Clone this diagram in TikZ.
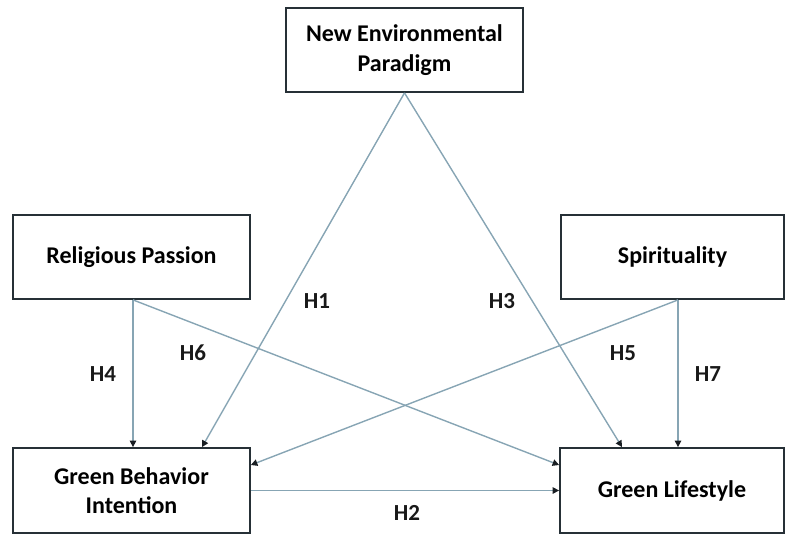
\documentclass[tikz,border=0pt]{standalone}
\usepackage{fontspec}
\setmainfont{Carlito}
\usetikzlibrary{arrows.meta}
\definecolor{boxcol}{RGB}{38,48,54}
\definecolor{linecol}{RGB}{135,165,180}
\definecolor{tipcol}{RGB}{25,30,35}
\tikzset{
  box/.style={draw=boxcol, line width=1.8pt, fill=white, rectangle, align=center,
    font=\fontsize{24}{29.5}\selectfont\bfseries, inner sep=0pt},
  conn/.style={draw=linecol, line width=1.4pt,
    -{Triangle[length=6.5pt,width=6.5pt,color=tipcol]}},
  lab/.style={font=\fontsize{23}{26}\selectfont\bfseries, text=black!90}
}
\begin{document}
\begin{tikzpicture}[x=1pt,y=-1pt]
\useasboundingbox (0,0) rectangle (786,534);
\node[box, minimum width=237pt, minimum height=84pt] (nep) at (404.5,50) {New Environmental\\Paradigm};
\node[box, minimum width=237pt, minimum height=84pt] (rp) at (131.5,257) {Religious Passion};
\node[box, minimum width=223pt, minimum height=84pt] (sp) at (672.5,257) {Spirituality};
\node[box, minimum width=237pt, minimum height=85pt] (gbi) at (131.5,490.5) {Green Behavior\\Intention};
\node[box, minimum width=224pt, minimum height=85pt] (gl) at (672,490.5) {Green Lifestyle};

\draw[conn] (nep.south) -- ([xshift=70.5pt]gbi.north);
\draw[conn] (nep.south) -- ([xshift=-50pt]gl.north);
\draw[conn] ([xshift=1.5pt]rp.south) -- ([xshift=1.5pt]gbi.north);
\draw[conn] ([xshift=1.5pt]rp.south) -- ([yshift=25.5pt]gl.west);
\draw[conn] ([xshift=5.5pt]sp.south) -- ([yshift=25.5pt]gbi.east);
\draw[conn] ([xshift=5.5pt]sp.south) -- ([xshift=6pt]gl.north);
\draw[conn] (gbi.east) -- (gl.west);

\node[lab] (h1) at (317,301) {H1};
\node[lab] (h3) at (502,301) {H3};
\node[lab] (h4) at (103,374) {H4};
\node[lab] (h6) at (193,353) {H6};
\node[lab] (h5) at (623,353) {H5};
\node[lab] (h7) at (708,374) {H7};
\node[lab] (h2) at (407,513) {H2};
\end{tikzpicture}
\end{document}
